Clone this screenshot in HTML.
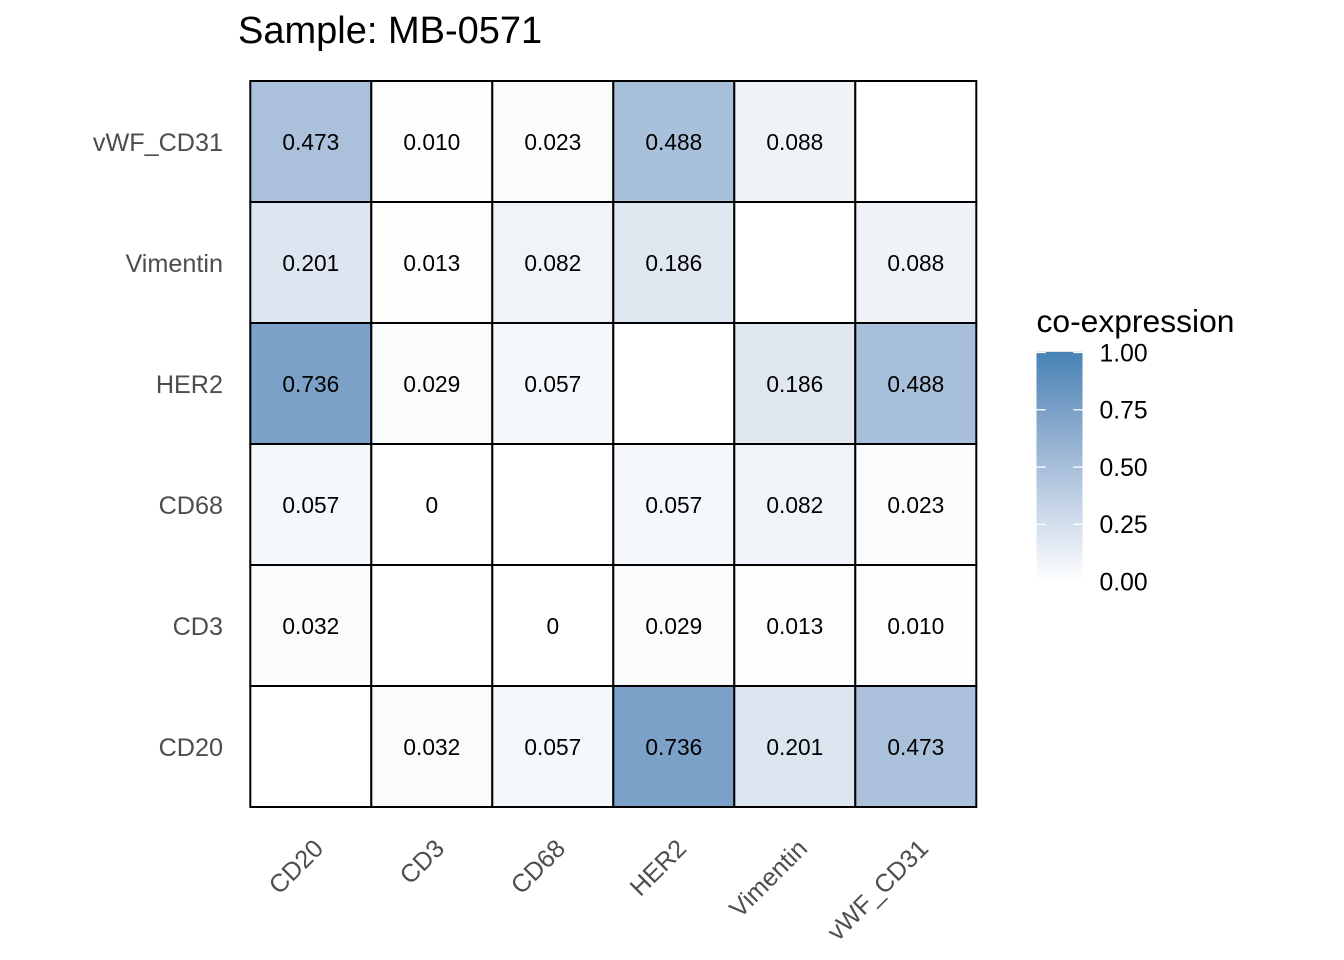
<!DOCTYPE html>
<html>
<head>
<meta charset="utf-8">
<style>
html,body{margin:0;padding:0;background:#fff;}
svg{display:block;}
</style>
</head>
<body>
<svg width="1344" height="960" viewBox="0 0 1344 960" xmlns="http://www.w3.org/2000/svg" font-family="Liberation Sans, Arial, sans-serif">
<defs>
<linearGradient id="cb" x1="0" y1="1" x2="0" y2="0">
<stop offset="0" stop-color="#FFFFFF"/>
<stop offset="0.085" stop-color="#F0F4F9"/>
<stop offset="0.19" stop-color="#DEE6F1"/>
<stop offset="0.48" stop-color="#ABC1DB"/>
<stop offset="0.736" stop-color="#7CA1C8"/>
<stop offset="1" stop-color="#4682B4"/>
</linearGradient>
</defs>
<rect width="1344" height="960" fill="#fff"/>

<!-- Title -->
<text x="238" y="43" font-size="38" fill="#000">Sample: MB-0571</text>

<!-- Tiles -->
<g stroke="#000" stroke-width="2">
<!-- row 0: vWF_CD31 -->
<rect x="250.3" y="81" width="121" height="121" fill="#ABC1DB"/>
<rect x="371.3" y="81" width="121" height="121" fill="#FDFEFE"/>
<rect x="492.3" y="81" width="121" height="121" fill="#FBFCFD"/>
<rect x="613.3" y="81" width="121" height="121" fill="#A9C0DA"/>
<rect x="734.3" y="81" width="121" height="121" fill="#EFF3F8"/>
<rect x="855.3" y="81" width="121" height="121" fill="#FFFFFF"/>
<!-- row 1: Vimentin -->
<rect x="250.3" y="202" width="121" height="121" fill="#DCE5F0"/>
<rect x="371.3" y="202" width="121" height="121" fill="#FDFDFE"/>
<rect x="492.3" y="202" width="121" height="121" fill="#F0F4F9"/>
<rect x="613.3" y="202" width="121" height="121" fill="#DFE7F1"/>
<rect x="734.3" y="202" width="121" height="121" fill="#FFFFFF"/>
<rect x="855.3" y="202" width="121" height="121" fill="#EFF3F8"/>
<!-- row 2: HER2 -->
<rect x="250.3" y="323" width="121" height="121" fill="#7CA1C8"/>
<rect x="371.3" y="323" width="121" height="121" fill="#FAFBFD"/>
<rect x="492.3" y="323" width="121" height="121" fill="#F5F8FB"/>
<rect x="613.3" y="323" width="121" height="121" fill="#FFFFFF"/>
<rect x="734.3" y="323" width="121" height="121" fill="#DFE7F1"/>
<rect x="855.3" y="323" width="121" height="121" fill="#A9C0DA"/>
<!-- row 3: CD68 -->
<rect x="250.3" y="444" width="121" height="121" fill="#F5F8FB"/>
<rect x="371.3" y="444" width="121" height="121" fill="#FFFFFF"/>
<rect x="492.3" y="444" width="121" height="121" fill="#FFFFFF"/>
<rect x="613.3" y="444" width="121" height="121" fill="#F5F8FB"/>
<rect x="734.3" y="444" width="121" height="121" fill="#F0F4F9"/>
<rect x="855.3" y="444" width="121" height="121" fill="#FBFCFD"/>
<!-- row 4: CD3 -->
<rect x="250.3" y="565" width="121" height="121" fill="#F9FBFD"/>
<rect x="371.3" y="565" width="121" height="121" fill="#FFFFFF"/>
<rect x="492.3" y="565" width="121" height="121" fill="#FFFFFF"/>
<rect x="613.3" y="565" width="121" height="121" fill="#FAFBFD"/>
<rect x="734.3" y="565" width="121" height="121" fill="#FDFDFE"/>
<rect x="855.3" y="565" width="121" height="121" fill="#FDFEFE"/>
<!-- row 5: CD20 -->
<rect x="250.3" y="686" width="121" height="121" fill="#FFFFFF"/>
<rect x="371.3" y="686" width="121" height="121" fill="#F9FBFD"/>
<rect x="492.3" y="686" width="121" height="121" fill="#F5F8FB"/>
<rect x="613.3" y="686" width="121" height="121" fill="#7CA1C8"/>
<rect x="734.3" y="686" width="121" height="121" fill="#DCE5F0"/>
<rect x="855.3" y="686" width="121" height="121" fill="#ABC1DB"/>
</g>

<!-- Cell values -->
<g font-size="22.7" fill="#000" text-anchor="middle">
<text x="310.8" y="150">0.473</text>
<text x="431.8" y="150">0.010</text>
<text x="552.8" y="150">0.023</text>
<text x="673.8" y="150">0.488</text>
<text x="794.8" y="150">0.088</text>

<text x="310.8" y="271">0.201</text>
<text x="431.8" y="271">0.013</text>
<text x="552.8" y="271">0.082</text>
<text x="673.8" y="271">0.186</text>
<text x="915.8" y="271">0.088</text>

<text x="310.8" y="392">0.736</text>
<text x="431.8" y="392">0.029</text>
<text x="552.8" y="392">0.057</text>
<text x="794.8" y="392">0.186</text>
<text x="915.8" y="392">0.488</text>

<text x="310.8" y="513">0.057</text>
<text x="431.8" y="513">0</text>
<text x="673.8" y="513">0.057</text>
<text x="794.8" y="513">0.082</text>
<text x="915.8" y="513">0.023</text>

<text x="310.8" y="634">0.032</text>
<text x="552.8" y="634">0</text>
<text x="673.8" y="634">0.029</text>
<text x="794.8" y="634">0.013</text>
<text x="915.8" y="634">0.010</text>

<text x="431.8" y="755">0.032</text>
<text x="552.8" y="755">0.057</text>
<text x="673.8" y="755">0.736</text>
<text x="794.8" y="755">0.201</text>
<text x="915.8" y="755">0.473</text>
</g>

<!-- Y axis labels -->
<g font-size="25.2" fill="#4D4D4D" text-anchor="end">
<text x="223" y="150.8">vWF_CD31</text>
<text x="223" y="271.8">Vimentin</text>
<text x="223" y="392.8">HER2</text>
<text x="223" y="513.8">CD68</text>
<text x="223" y="634.8">CD3</text>
<text x="223" y="755.8">CD20</text>
</g>

<!-- X axis labels -->
<g font-size="25.2" fill="#4D4D4D" text-anchor="end">
<text transform="translate(324.8,850) rotate(-45)">CD20</text>
<text transform="translate(445.8,850) rotate(-45)">CD3</text>
<text transform="translate(566.8,850) rotate(-45)">CD68</text>
<text transform="translate(687.8,850) rotate(-45)">HER2</text>
<text transform="translate(808.8,850) rotate(-45)">Vimentin</text>
<text transform="translate(929.8,850) rotate(-45)">vWF_CD31</text>
</g>

<!-- Legend -->
<text x="1036.5" y="332" font-size="31.8" fill="#000">co-expression</text>
<rect x="1036.5" y="351.8" width="46" height="230" fill="url(#cb)"/>
<g stroke="#fff" stroke-width="1.3">
<line x1="1036.5" y1="352.5" x2="1045.7" y2="352.5"/>
<line x1="1073.3" y1="352.5" x2="1082.5" y2="352.5"/>
<line x1="1036.5" y1="409.8" x2="1045.7" y2="409.8"/>
<line x1="1073.3" y1="409.8" x2="1082.5" y2="409.8"/>
<line x1="1036.5" y1="467.1" x2="1045.7" y2="467.1"/>
<line x1="1073.3" y1="467.1" x2="1082.5" y2="467.1"/>
<line x1="1036.5" y1="524.4" x2="1045.7" y2="524.4"/>
<line x1="1073.3" y1="524.4" x2="1082.5" y2="524.4"/>
<line x1="1036.5" y1="581.2" x2="1045.7" y2="581.2"/>
<line x1="1073.3" y1="581.2" x2="1082.5" y2="581.2"/>
</g>
<g font-size="24.7" fill="#000">
<text x="1099.5" y="361.3">1.00</text>
<text x="1099.5" y="418.6">0.75</text>
<text x="1099.5" y="475.9">0.50</text>
<text x="1099.5" y="533.2">0.25</text>
<text x="1099.5" y="590.3">0.00</text>
</g>
</svg>
</body>
</html>
